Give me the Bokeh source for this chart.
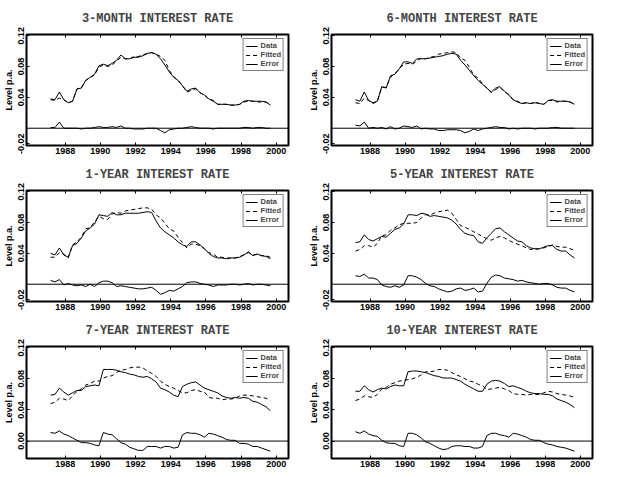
from bokeh.plotting import figure
from bokeh.layouts import column, row
from bokeh.models import Span, FixedTicker, Range1d, NumeralTickFormatter, LinearAxis
from bokeh.embed import file_html
from bokeh.resources import INLINE

# quarterly readings, decimal years
dates = [round(1987.17 + 0.25 * i, 2) for i in range(51)]

titles = ["3-MONTH INTEREST RATE", "6-MONTH INTEREST RATE", "1-YEAR INTEREST RATE",
          "5-YEAR INTEREST RATE", "7-YEAR INTEREST RATE", "10-YEAR INTEREST RATE"]

x_ticks = [1988, 1990, 1992, 1994, 1996, 1998, 2000]
y_ticks_top = [-0.02, 0.04, 0.08, 0.12]
y_ticks_bottom = [0.00, 0.04, 0.08, 0.12]

data_3m = [0.038,0.037,0.047,0.037,0.033,0.035,0.051,0.052,0.062,0.066,0.070,0.081,0.083,0.081,0.084,0.088,0.095,0.090,0.090,0.092,0.092,0.094,0.097,0.098,0.096,0.090,0.082,0.073,0.066,0.062,0.055,0.048,0.051,0.052,0.046,0.043,0.038,0.035,0.031,0.031,0.031,0.030,0.030,0.031,0.035,0.036,0.035,0.035,0.035,0.034,0.030]
fit_3m = [0.037,0.036,0.039,0.037,0.033,0.035,0.051,0.053,0.062,0.066,0.069,0.079,0.082,0.080,0.082,0.087,0.092,0.090,0.090,0.093,0.093,0.095,0.097,0.098,0.096,0.093,0.088,0.075,0.067,0.062,0.055,0.047,0.049,0.051,0.046,0.043,0.038,0.036,0.031,0.031,0.031,0.030,0.030,0.031,0.034,0.035,0.035,0.034,0.034,0.034,0.030]
err_3m = [0.001,0.001,0.008,0.000,0.000,0.000,0.000,-0.001,0.000,0.000,0.001,0.002,0.001,0.001,0.002,0.001,0.003,0.000,0.000,-0.001,-0.001,-0.001,0.000,0.000,0.000,-0.003,-0.006,-0.002,-0.001,0.000,0.000,0.001,0.002,0.001,0.000,0.000,0.000,-0.001,0.000,0.000,0.000,0.000,0.000,0.000,0.001,0.001,0.000,0.001,0.001,0.000,0.000]

data_6m = [0.037,0.035,0.047,0.036,0.033,0.035,0.054,0.052,0.068,0.070,0.077,0.086,0.086,0.084,0.090,0.090,0.090,0.091,0.092,0.093,0.094,0.096,0.097,0.096,0.088,0.082,0.075,0.068,0.062,0.057,0.052,0.047,0.052,0.054,0.048,0.043,0.037,0.034,0.032,0.033,0.032,0.033,0.032,0.031,0.036,0.037,0.035,0.035,0.035,0.034,0.031]
fit_6m = [0.033,0.032,0.039,0.036,0.032,0.035,0.053,0.053,0.066,0.071,0.077,0.083,0.084,0.083,0.087,0.091,0.090,0.092,0.093,0.096,0.097,0.098,0.099,0.098,0.091,0.088,0.079,0.069,0.065,0.058,0.052,0.046,0.050,0.053,0.047,0.044,0.037,0.035,0.032,0.033,0.032,0.034,0.032,0.031,0.036,0.036,0.034,0.035,0.035,0.034,0.031]
err_6m = [0.004,0.003,0.008,0.000,0.001,0.000,0.001,-0.001,0.002,-0.001,0.000,0.003,0.002,0.001,0.003,-0.001,0.000,-0.001,-0.001,-0.003,-0.003,-0.002,-0.002,-0.002,-0.003,-0.006,-0.004,-0.001,-0.003,-0.001,0.000,0.001,0.002,0.001,0.001,-0.001,0.000,-0.001,0.000,0.000,0.000,-0.001,0.000,0.000,0.000,0.001,0.001,0.000,0.000,0.000,0.000]

data_1y = [0.040,0.038,0.047,0.038,0.035,0.050,0.053,0.060,0.069,0.073,0.078,0.090,0.089,0.088,0.093,0.090,0.090,0.092,0.092,0.092,0.092,0.093,0.094,0.093,0.082,0.073,0.068,0.064,0.060,0.055,0.051,0.049,0.055,0.055,0.051,0.046,0.040,0.036,0.034,0.034,0.033,0.034,0.034,0.035,0.038,0.042,0.037,0.039,0.037,0.036,0.033]
fit_1y = [0.035,0.035,0.041,0.039,0.034,0.051,0.055,0.061,0.072,0.073,0.081,0.088,0.085,0.084,0.091,0.093,0.092,0.095,0.096,0.097,0.098,0.099,0.099,0.097,0.090,0.086,0.079,0.072,0.069,0.061,0.054,0.047,0.052,0.052,0.050,0.046,0.041,0.039,0.035,0.035,0.034,0.034,0.034,0.036,0.038,0.041,0.038,0.039,0.037,0.037,0.035]
err_1y = [0.005,0.003,0.006,-0.001,0.001,-0.001,-0.002,-0.001,-0.003,0.000,-0.003,0.002,0.004,0.004,0.002,-0.003,-0.002,-0.003,-0.004,-0.005,-0.006,-0.006,-0.005,-0.004,-0.008,-0.013,-0.011,-0.008,-0.009,-0.006,-0.003,0.002,0.003,0.003,0.001,0.000,-0.001,-0.003,-0.001,-0.001,-0.001,0.000,0.000,-0.001,0.000,0.001,-0.001,0.000,0.000,-0.001,-0.002]

data_5y = [0.054,0.055,0.064,0.058,0.056,0.059,0.062,0.061,0.066,0.071,0.073,0.078,0.090,0.090,0.089,0.092,0.091,0.088,0.089,0.088,0.087,0.086,0.083,0.078,0.071,0.066,0.064,0.063,0.055,0.053,0.060,0.066,0.072,0.073,0.068,0.064,0.060,0.056,0.055,0.050,0.047,0.046,0.046,0.048,0.050,0.050,0.045,0.043,0.043,0.038,0.034]
fit_5y = [0.043,0.045,0.050,0.050,0.048,0.053,0.063,0.064,0.070,0.073,0.077,0.079,0.079,0.079,0.080,0.086,0.090,0.090,0.092,0.094,0.095,0.096,0.092,0.084,0.076,0.074,0.071,0.068,0.065,0.062,0.059,0.057,0.060,0.062,0.060,0.057,0.054,0.052,0.050,0.047,0.045,0.045,0.046,0.047,0.049,0.051,0.049,0.048,0.048,0.046,0.044]
err_5y = [0.011,0.010,0.013,0.008,0.008,0.006,-0.001,-0.003,-0.004,-0.002,-0.004,-0.001,0.011,0.011,0.009,0.006,0.001,-0.002,-0.003,-0.006,-0.008,-0.010,-0.009,-0.006,-0.005,-0.008,-0.007,-0.005,-0.010,-0.009,0.001,0.009,0.012,0.011,0.008,0.007,0.006,0.004,0.005,0.003,0.002,0.001,0.000,0.001,0.001,-0.001,-0.004,-0.005,-0.005,-0.008,-0.010]

data_7y = [0.059,0.060,0.068,0.063,0.059,0.062,0.065,0.065,0.070,0.071,0.072,0.071,0.092,0.092,0.092,0.091,0.089,0.088,0.086,0.085,0.083,0.082,0.083,0.080,0.076,0.068,0.066,0.063,0.059,0.057,0.070,0.073,0.075,0.076,0.072,0.068,0.066,0.064,0.062,0.058,0.056,0.055,0.056,0.055,0.056,0.055,0.051,0.050,0.047,0.044,0.039]
fit_7y = [0.048,0.050,0.055,0.054,0.052,0.058,0.064,0.067,0.072,0.074,0.077,0.077,0.081,0.083,0.084,0.088,0.091,0.092,0.094,0.095,0.095,0.094,0.090,0.087,0.083,0.077,0.073,0.070,0.068,0.065,0.062,0.062,0.065,0.066,0.064,0.063,0.056,0.055,0.055,0.053,0.054,0.054,0.055,0.058,0.059,0.059,0.058,0.057,0.056,0.055,0.052]
err_7y = [0.011,0.010,0.013,0.009,0.007,0.004,0.001,-0.002,-0.002,-0.003,-0.005,-0.006,0.011,0.009,0.008,0.003,-0.002,-0.004,-0.008,-0.010,-0.012,-0.012,-0.007,-0.007,-0.007,-0.009,-0.007,-0.007,-0.009,-0.008,0.008,0.011,0.010,0.010,0.008,0.005,0.010,0.009,0.007,0.005,0.002,0.001,0.001,-0.003,-0.003,-0.004,-0.007,-0.007,-0.009,-0.011,-0.013]

data_10y = [0.064,0.064,0.071,0.066,0.063,0.066,0.068,0.067,0.070,0.072,0.071,0.071,0.089,0.090,0.090,0.089,0.088,0.086,0.084,0.083,0.081,0.081,0.081,0.079,0.077,0.073,0.070,0.067,0.064,0.064,0.073,0.077,0.078,0.077,0.074,0.070,0.071,0.069,0.067,0.064,0.062,0.061,0.061,0.060,0.060,0.058,0.054,0.052,0.050,0.047,0.043]
fit_10y = [0.052,0.054,0.058,0.057,0.056,0.060,0.067,0.069,0.073,0.075,0.077,0.078,0.079,0.080,0.082,0.085,0.089,0.089,0.090,0.092,0.092,0.091,0.088,0.085,0.083,0.080,0.077,0.076,0.073,0.071,0.066,0.067,0.068,0.069,0.067,0.065,0.061,0.060,0.060,0.059,0.060,0.060,0.060,0.062,0.064,0.063,0.061,0.060,0.059,0.058,0.056]
err_10y = [0.012,0.010,0.013,0.009,0.007,0.006,0.001,-0.002,-0.003,-0.003,-0.006,-0.007,0.010,0.010,0.008,0.004,-0.001,-0.003,-0.006,-0.009,-0.011,-0.010,-0.007,-0.006,-0.006,-0.007,-0.007,-0.009,-0.009,-0.007,0.007,0.010,0.010,0.008,0.007,0.005,0.010,0.009,0.007,0.005,0.002,0.001,0.001,-0.002,-0.004,-0.005,-0.007,-0.008,-0.009,-0.011,-0.013]

series = [(data_3m, fit_3m, err_3m), (data_6m, fit_6m, err_6m), (data_1y, fit_1y, err_1y),
          (data_5y, fit_5y, err_5y), (data_7y, fit_7y, err_7y), (data_10y, fit_10y, err_10y)]

TICK_FONT = "Liberation Sans"


def make_panel(idx, width, height, right_border):
    d, f, e = series[idx]
    p = figure(width=width, height=height, output_backend="svg", toolbar_location=None,
               x_range=Range1d(1985.8, 2000.7), y_range=Range1d(-0.0224, 0.1215),
               min_border_left=24, min_border_right=right_border, min_border_top=34,
               min_border_bottom=0)
    p.title.text = titles[idx]
    p.title.align = "center"
    p.title.text_font = "Liberation Mono"
    p.title.text_font_style = "bold"
    p.title.text_font_size = "12px"
    p.title.standoff = 17
    p.outline_line_color = "black"
    p.outline_line_width = 2
    p.xgrid.visible = False
    p.ygrid.visible = False
    p.background_fill_color = "white"
    p.border_fill_color = "white"

    p.line(dates, d, line_color="black", line_width=1, legend_label="Data")
    p.line(dates, f, line_color="black", line_width=1, line_dash="4 3", legend_label="Fitted")
    p.line(dates, e, line_color="black", line_width=1, legend_label="Error")
    p.add_layout(Span(location=0, dimension="width", line_color="black", line_width=1))

    xb = p.below[0]
    yl = p.left[0]

    top_axis = LinearAxis(ticker=FixedTicker(ticks=x_ticks), major_label_text_font_size="0px",
                          major_label_text_color=None, major_label_standoff=0,
                          axis_line_color=None, major_tick_in=3, major_tick_out=0,
                          minor_tick_line_color=None, axis_label_standoff=0)
    p.add_layout(top_axis, "above")

    xb.ticker = FixedTicker(ticks=x_ticks)
    yl.ticker = FixedTicker(ticks=y_ticks_bottom if idx >= 4 else y_ticks_top)
    yl.formatter = NumeralTickFormatter(format="0.00")
    for ax in (xb, yl):
        ax.axis_line_color = None
        ax.major_tick_in = 3
        ax.major_tick_out = 0
        ax.minor_tick_line_color = None
        ax.major_label_text_font = TICK_FONT
        ax.major_label_text_font_style = "bold"
        ax.major_label_text_font_size = "9px"
        ax.major_label_text_color = "black"
    xb.major_label_standoff = 2
    xb.axis_label_standoff = 0
    yl.major_label_orientation = "vertical"
    yl.major_label_standoff = 2
    yl.axis_label = "Level p.a."
    yl.axis_label_text_font = TICK_FONT
    yl.axis_label_text_font_style = "bold"
    yl.axis_label_text_font_size = "9px"
    yl.axis_label_standoff = 2
    yl.axis_label_text_color = "black"

    lg = p.legend[0]
    lg.location = "top_right"
    lg.margin = 4
    lg.padding = 2
    lg.spacing = 0
    lg.glyph_width = 12
    lg.glyph_height = 8
    lg.label_height = 8
    lg.label_standoff = 3
    lg.label_text_font = TICK_FONT
    lg.label_text_font_style = "bold"
    lg.label_text_font_size = "7.5px"
    lg.border_line_color = "black"
    lg.border_line_width = 1
    lg.background_fill_color = "white"
    lg.background_fill_alpha = 1
    return p


heights = [156, 156, 157]
rows = [row(make_panel(2 * r, 305, heights[r], 17), make_panel(2 * r + 1, 297, heights[r], 10))
        for r in range(3)]
layout = column(*rows)

open("out.html", "w").write(file_html(layout, INLINE))
